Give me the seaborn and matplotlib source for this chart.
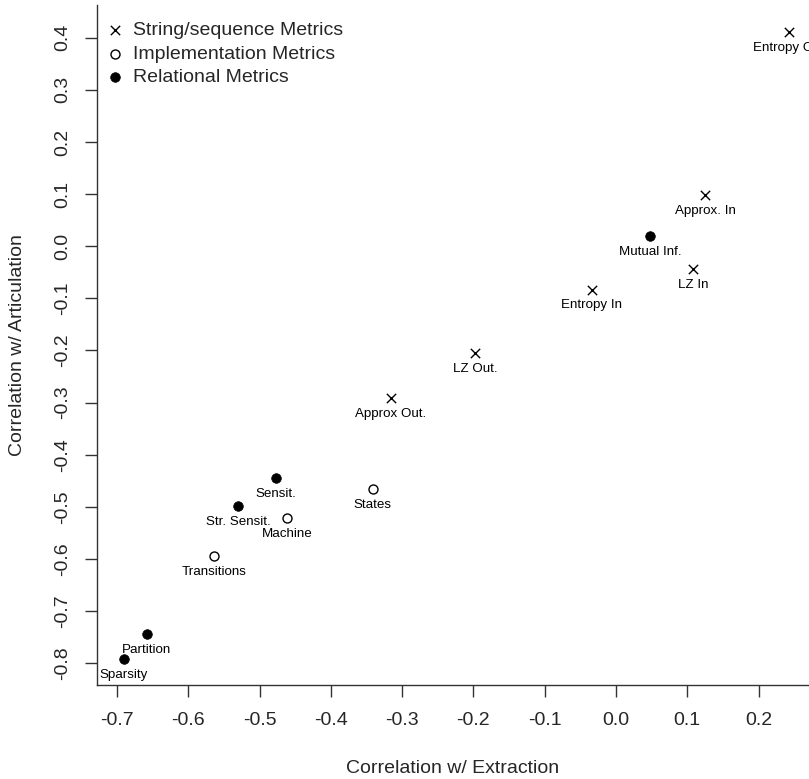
import pandas as pd
import matplotlib
matplotlib.use('Agg')
import matplotlib.pyplot as plt
import seaborn as sns

names = ['Entropy Out', 'Approx. In', 'Mutual Inf.', 'LZ In', 'Entropy In',
         'LZ Out.', 'Approx Out.', 'Sensit.', 'States', 'Str. Sensit.',
         'Machine', 'Transitions', 'Partition', 'Sparsity']
extraction = [0.242, 0.125, 0.048, 0.108, -0.034,
              -0.198, -0.316, -0.477, -0.341, -0.530,
              -0.461, -0.564, -0.658, -0.690]
articulation = [0.412, 0.098, 0.020, -0.043, -0.083,
                -0.204, -0.292, -0.444, -0.466, -0.498,
                -0.522, -0.594, -0.745, -0.793]
group = ['String', 'String', 'Relational', 'String', 'String',
         'String', 'String', 'Relational', 'Implementation', 'Relational',
         'Implementation', 'Implementation', 'Relational', 'Relational']

x_ticks = [-0.7, -0.6, -0.5, -0.4, -0.3, -0.2, -0.1, 0.0, 0.1, 0.2]
x_tick_labels = ['-0.7', '-0.6', '-0.5', '-0.4', '-0.3', '-0.2', '-0.1', '0.0', '0.1', '0.2']
y_ticks = [-0.8, -0.7, -0.6, -0.5, -0.4, -0.3, -0.2, -0.1, 0.0, 0.1, 0.2, 0.3, 0.4]
y_tick_labels = ['-0.8', '-0.7', '-0.6', '-0.5', '-0.4', '-0.3', '-0.2', '-0.1',
                 '0.0', '0.1', '0.2', '0.3', '0.4']

df = pd.DataFrame({'name': names, 'x': extraction, 'y': articulation, 'group': group})

sns.set_style('ticks')
plt.rcParams['font.family'] = ['Liberation Sans', 'DejaVu Sans']

fig = plt.figure(figsize=(8.09, 7.79), dpi=100)
ax = fig.add_axes([97 / 809, 94 / 779, 1 - 97 / 809, (685 - 5) / 779])

# one call per marker type (seaborn won't mix line-art and filled markers)
sns.scatterplot(data=df[df.group == 'String'], x='x', y='y', marker='x', s=45,
                color='black', linewidth=1.0, label='String/sequence Metrics', ax=ax)
sns.scatterplot(data=df[df.group == 'Implementation'], x='x', y='y', marker='o', s=42,
                facecolor='white', edgecolor='black', linewidth=1.0,
                label='Implementation Metrics', ax=ax)
sns.scatterplot(data=df[df.group == 'Relational'], x='x', y='y', marker='o', s=48,
                color='black', edgecolor='black', linewidth=0.5,
                label='Relational Metrics', ax=ax)

# labels sit just under each point; the one at the right edge gets cut like the original
for _, r in df.iterrows():
    ax.annotate(r['name'], (r['x'], r['y']), xytext=(0, -11.5), textcoords='offset points',
                ha='center', va='center', fontsize=9.6, color='black',
                annotation_clip=False)

ax.set_xlim(-0.728, 0.2707)
ax.set_ylim(-0.842, 0.463)
ax.set_xticks(x_ticks)
ax.set_xticklabels(x_tick_labels, fontsize=14)
ax.set_yticks(y_ticks)
ax.set_yticklabels(y_tick_labels, fontsize=14, rotation=90, va='center')
ax.tick_params(axis='both', length=8.6, width=1, color='#333333', direction='out')
ax.tick_params(axis='x', pad=11)
ax.tick_params(axis='y', pad=10)

sns.despine(ax=ax)
for s in ['left', 'bottom']:
    ax.spines[s].set_color('#333333')
    ax.spines[s].set_linewidth(1)

ax.set_xlabel('Correlation w/ Extraction', fontsize=14, labelpad=22)
ax.set_ylabel('Correlation w/ Articulation', fontsize=14, labelpad=20)

ax.legend(loc='upper left', bbox_to_anchor=(0.0, 0.987), frameon=False, fontsize=14,
          handlelength=1.0, handletextpad=0.45, labelspacing=0.3, borderaxespad=0.0,
          borderpad=0.4)

fig.savefig('out.png', dpi=100)
